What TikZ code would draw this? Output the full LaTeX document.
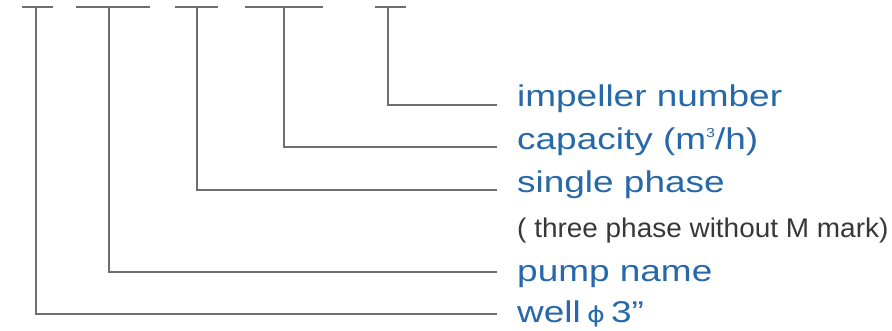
\documentclass[tikz,border=0pt]{standalone}
\usepackage{fontspec}
\setmainfont{Liberation Sans}
\newfontfamily\phifont{DejaVu Sans}
\definecolor{txtblue}{RGB}{38,104,168}
\definecolor{linegray}{RGB}{110,110,110}
\definecolor{notegray}{RGB}{55,55,55}
\newcommand{\wide}[1]{\scalebox{1.232}[1]{#1}}
\begin{document}
\begin{tikzpicture}[x=1pt,y=-1pt,
  conn/.style={draw=linegray,line width=1.8pt},
  lbl/.style={anchor=base west,inner sep=0pt,text=txtblue,font=\fontsize{30}{31}\selectfont},
  note/.style={anchor=base west,inner sep=0pt,text=notegray,font=\fontsize{27}{28}\selectfont}]
\useasboundingbox (0,0) rectangle (892,331);
% top bars
\coordinate (b1l) at (22,7);  \coordinate (b1) at (36,7);  \coordinate (b1r) at (53,7);
\coordinate (b2l) at (76,7);  \coordinate (b2) at (109,7); \coordinate (b2r) at (150,7);
\coordinate (b3l) at (175,7); \coordinate (b3) at (197,7); \coordinate (b3r) at (218,7);
\coordinate (b4l) at (245,7); \coordinate (b4) at (284,7); \coordinate (b4r) at (323,7);
\coordinate (b5l) at (375,7); \coordinate (b5) at (388,7); \coordinate (b5r) at (406,7);
\foreach \i in {1,...,5} {\draw[conn] (b\i l) -- (b\i r);}
% labels
\node[lbl] (t5) at (517,107) {\wide{impeller number}};
\node[lbl] (t4) at (517,150) {\wide{capacity (m\raisebox{0.42em}{\fontsize{13}{13}\selectfont 3}/h)}};
\node[lbl] (t3) at (517,193) {\wide{single phase}};
\node[note] (n3) at (517,238) {\scalebox{1.035}[1]{( three phase without M mark)}};
\node[lbl] (t2) at (517,281) {\wide{pump name}};
\node[lbl] (t1) at (517,322) {\wide{well\,{\phifont\fontsize{22}{22}\selectfont ϕ}\,3”}};
% line ends
\coordinate (e5) at (497,105);
\coordinate (e4) at (497,147);
\coordinate (e3) at (497,190);
\coordinate (e2) at (497,272);
\coordinate (e1) at (497,314);
% connectors
\draw[conn] (b5) |- (e5);
\draw[conn] (b4) |- (e4);
\draw[conn] (b3) |- (e3);
\draw[conn] (b2) |- (e2);
\draw[conn] (b1) |- (e1);
\end{tikzpicture}
\end{document}
